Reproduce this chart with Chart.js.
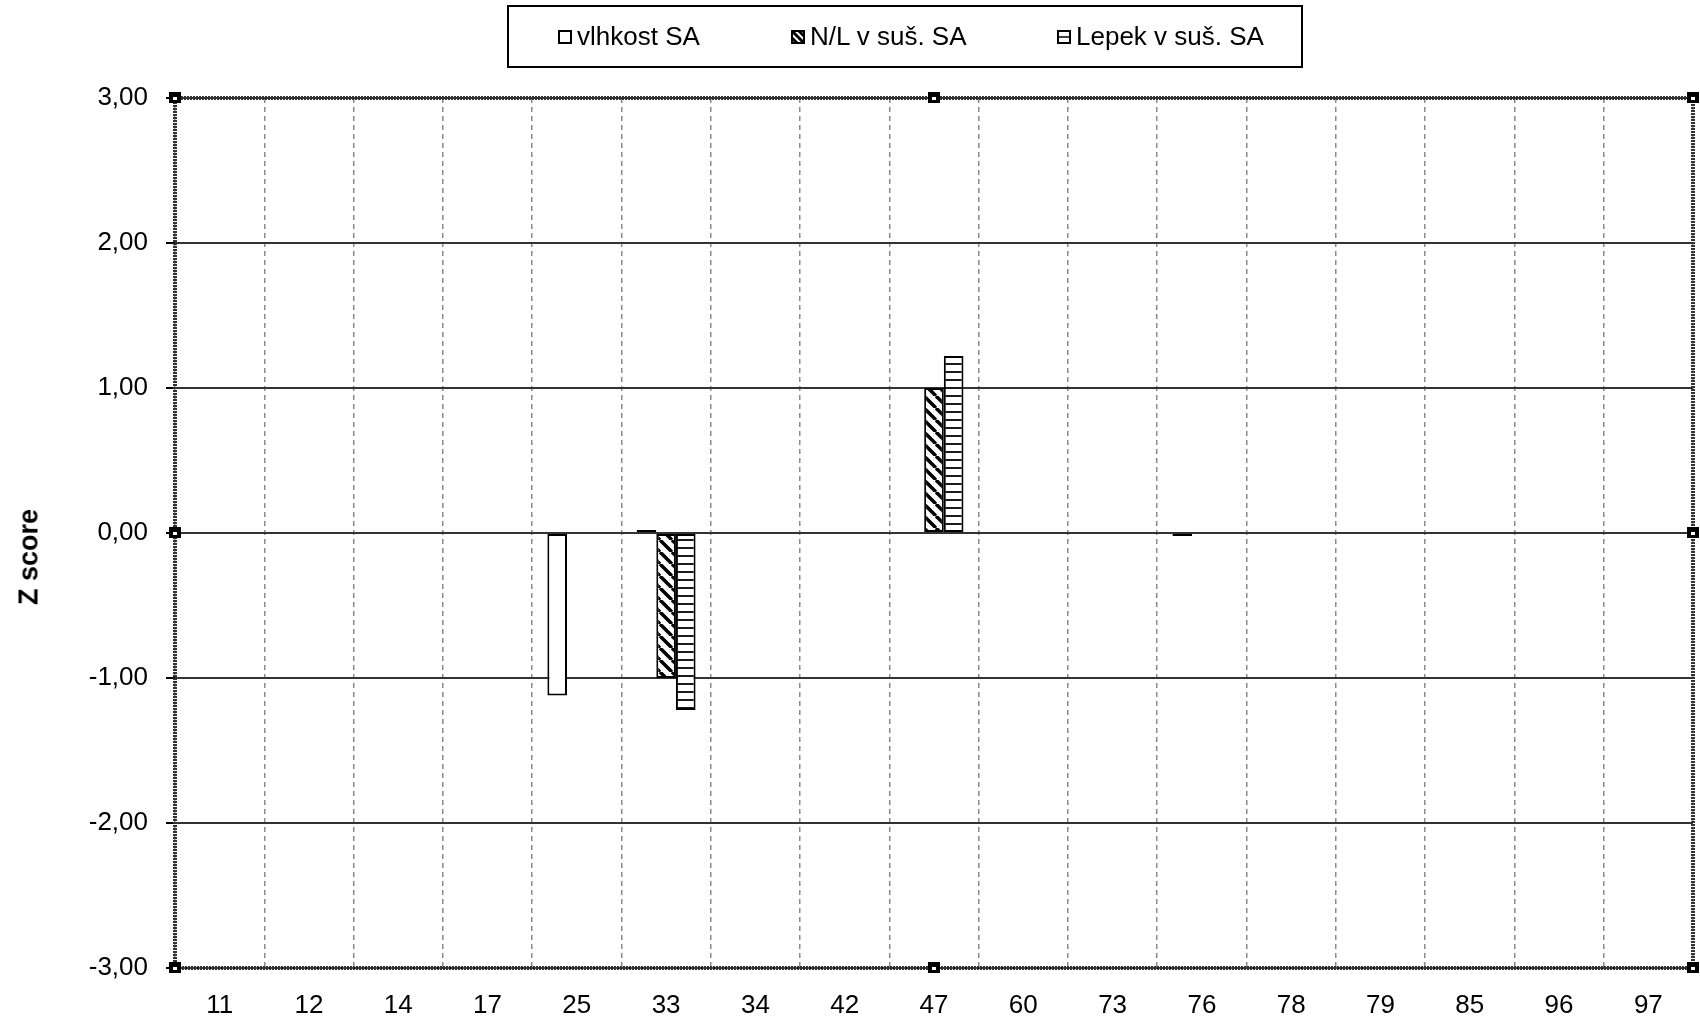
<!DOCTYPE html>
<html>
<head>
<meta charset="utf-8">
<script src="https://cdn.jsdelivr.net/npm/chart.js@4"></script>
<style>
  body { margin: 0; background: #fff; }
  #wrap { position: relative; width: 1700px; height: 1025px; }
  #legend {
    position: absolute; left: 507px; top: 5px; width: 796px; height: 63px;
    box-sizing: border-box; border: 2px solid #000;
    font-family: "Liberation Sans", Arial, sans-serif; font-size: 26px; color: #000;
  }
  .item { position: absolute; top: 0; height: 59px; display: flex; align-items: center; white-space: nowrap; }
  .item canvas { margin-right: 5px; }
  #ytitle {
    position: absolute; left: 29px; top: 557px; white-space: nowrap;
    font-family: "Liberation Sans", Arial, sans-serif; font-size: 27px; font-weight: bold; color: #000;
    transform: translate(-50%, -50%) rotate(-90deg);
  }
</style>
</head>
<body>
<div id="wrap">
  <canvas id="myChart"></canvas>
  <div id="legend"></div>
  <div id="ytitle">Z score</div>
</div>
<script>
// lab codes
var labs = ['11', '12', '14', '17', '25', '33', '34', '42', '47', '60', '73', '76', '78', '79', '85', '96', '97'];

// z scores (null = no bar)
var vlhkost = [null, null, null, null, -1.12, 0.02, null, null, null, null, null, -0.02, null, null, null, null, null];
var nl      = [null, null, null, null, null, -1.00, null, null, 1.00, null, null, null, null, null, null, null, null];
var lepek   = [null, null, null, null, null, -1.22, null, null, 1.22, null, null, null, null, null, null, null, null];

var seriesNames = ['vlhkost SA', 'N/L v suš. SA', 'Lepek v suš. SA'];
var yTicks = [-3, -2, -1, 0, 1, 2, 3];

var FONT = '"Liberation Sans", Arial, sans-serif';

function drawTile(kind, c, w, h) {
  c.fillStyle = '#fff';
  c.fillRect(0, 0, w, h);
  c.strokeStyle = '#000';
  if (kind == 'diag') {
    c.lineWidth = 3.5;
    for (var k = -w; k <= w; k += w) {
      c.beginPath();
      c.moveTo(k, 0);
      c.lineTo(k + w, h);
      c.stroke();
    }
  } else if (kind == 'horiz') {
    c.lineWidth = 1.8;
    c.beginPath();
    c.moveTo(0, h / 2);
    c.lineTo(w, h / 2);
    c.stroke();
  }
}

function makePattern(kind) {
  var tile = document.createElement('canvas');
  var w = kind == 'diag' ? 12 : 4;
  var h = kind == 'diag' ? 12 : 8;
  tile.width = w;
  tile.height = h;
  drawTile(kind, tile.getContext('2d'), w, h);
  return tile.getContext('2d').createPattern(tile, 'repeat');
}

var fills = ['#ffffff', makePattern('diag'), makePattern('horiz')];
var kinds = ['plain', 'diag', 'horiz'];

// html legend
var legendLefts = [558, 791, 1057];
var legend = document.getElementById('legend');
seriesNames.forEach(function (name, i) {
  var item = document.createElement('div');
  item.className = 'item';
  item.style.left = (legendLefts[i] - 509) + 'px';
  var sw = document.createElement('canvas');
  sw.width = 14; sw.height = 14;
  var c = sw.getContext('2d');
  if (kinds[i] == 'plain') {
    c.fillStyle = '#fff'; c.fillRect(0, 0, 14, 14);
  } else if (kinds[i] == 'diag') {
    c.fillStyle = '#fff'; c.fillRect(0, 0, 14, 14);
    c.strokeStyle = '#000'; c.lineWidth = 3;
    c.beginPath(); c.moveTo(0, 0); c.lineTo(14, 14); c.stroke();
    c.beginPath(); c.moveTo(7, 0); c.lineTo(14, 7); c.stroke();
    c.beginPath(); c.moveTo(0, 7); c.lineTo(7, 14); c.stroke();
  } else {
    c.fillStyle = '#fff'; c.fillRect(0, 0, 14, 14);
    c.strokeStyle = '#000'; c.lineWidth = 1.5;
    c.beginPath(); c.moveTo(0, 7); c.lineTo(14, 7); c.stroke();
  }
  c.strokeStyle = '#000'; c.lineWidth = 2;
  c.strokeRect(1, 1, 12, 12);
  item.appendChild(sw);
  var txt = document.createElement('span');
  txt.textContent = name;
  item.appendChild(txt);
  legend.appendChild(item);
});

// dotted plot frame + selection handles
var frame = {
  id: 'frame',
  afterDraw: function (chart) {
    var a = chart.chartArea;
    var ctx = chart.ctx;
    ctx.save();
    ctx.strokeStyle = '#333';
    ctx.lineWidth = 4;
    ctx.setLineDash([2, 1]);
    ctx.strokeRect(a.left, a.top, a.right - a.left, a.bottom - a.top);
    ctx.setLineDash([]);
    var mx = (a.left + a.right) / 2, my = (a.top + a.bottom) / 2;
    var pts = [[a.left, a.top], [mx, a.top], [a.right, a.top], [a.left, my], [a.right, my],
               [a.left, a.bottom], [mx, a.bottom], [a.right, a.bottom]];
    pts.forEach(function (p) {
      ctx.fillStyle = '#000';
      ctx.fillRect(p[0] - 6, p[1] - 6, 12, 11);
      ctx.fillStyle = '#fff';
      ctx.fillRect(p[0] - 2, p[1] - 1, 4, 3);
    });
    ctx.restore();
  }
};

var cv = document.getElementById('myChart');
cv.width = 1700; cv.height = 1025;

var datasets = [vlhkost, nl, lepek].map(function (vals, i) {
  return {
    label: seriesNames[i],
    data: vals,
    backgroundColor: fills[i],
    borderColor: '#000',
    borderWidth: 2,
    borderSkipped: false,
    categoryPercentage: 0.66,
    barPercentage: 1.0
  };
});

new Chart(cv, {
  type: 'bar',
  data: { labels: labs, datasets: datasets },
  options: {
    responsive: false,
    animation: false,
    devicePixelRatio: 1,
    layout: { padding: { top: 98, right: 7, left: 0, bottom: 0 } },
    plugins: {
      legend: { display: false },
      tooltip: { enabled: false }
    },
    scales: {
      x: {
        grid: {
          offset: true,
          color: '#8a8a8a',
          lineWidth: 1.5,
          drawTicks: false
        },
        border: { display: false, dash: [5, 4] },
        ticks: {
          padding: 22,
          color: '#000',
          font: { family: FONT, size: 26 },
          maxRotation: 0,
          autoSkip: false
        },
        afterFit: function (s) { s.height = 57; }
      },
      y: {
        min: -3,
        max: 3,
        afterBuildTicks: function (s) {
          s.ticks = yTicks.map(function (v) { return { value: v }; });
        },
        grid: {
          color: '#333',
          lineWidth: 2,
          tickLength: 9,
          tickColor: '#000'
        },
        border: { display: false },
        ticks: {
          padding: 18,
          color: '#000',
          font: { family: FONT, size: 26 },
          callback: function (v) { return v.toFixed(2).replace('.', ','); }
        },
        afterFit: function (s) { s.width = 175; }
      }
    }
  },
  plugins: [frame]
});
</script>
</body>
</html>
